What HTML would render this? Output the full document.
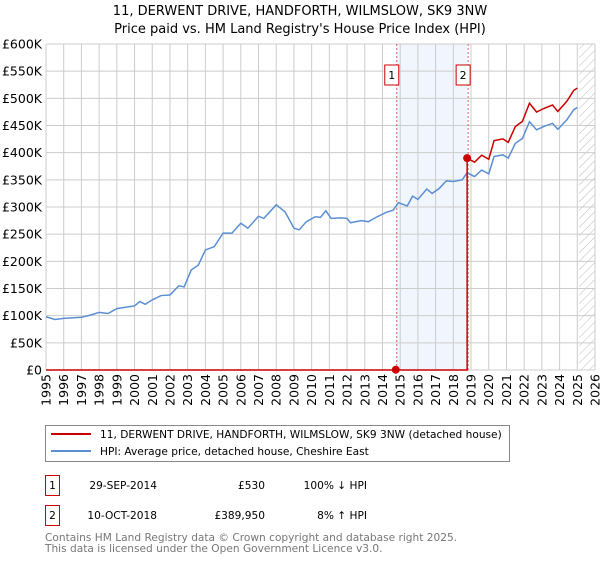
<!DOCTYPE html>
<html><head><meta charset="utf-8"><style>
body{margin:0;background:#fff;font-family:"Liberation Sans","DejaVu Sans",sans-serif;}
svg text{font-family:"DejaVu Sans","Liberation Sans",sans-serif;}
</style></head><body>
<svg id="chart" width="600" height="560" xmlns="http://www.w3.org/2000/svg">
<defs><pattern id="hatch" patternUnits="userSpaceOnUse" width="6" height="6" patternTransform="rotate(45)"><line x1="0" y1="0" x2="0" y2="6" stroke="#bbb" stroke-width="1"/></pattern></defs>
<text x="300" y="15" text-anchor="middle" font-size="13" fill="#000">11, DERWENT DRIVE, HANDFORTH, WILMSLOW, SK9 3NW</text>
<text x="300" y="33" text-anchor="middle" font-size="13" fill="#000">Price paid vs. HM Land Registry's House Price Index (HPI)</text>
<g id="grid"></g><g id="marks"></g><g id="axes"></g>
<rect x="45.5" y="425.5" width="464" height="36" fill="#fff" stroke="#888"/>
<line x1="51" y1="434" x2="91" y2="434" stroke="#cc0000" stroke-width="2"/>
<text x="100" y="438" font-size="10.6">11, DERWENT DRIVE, HANDFORTH, WILMSLOW, SK9 3NW (detached house)</text>
<line x1="51" y1="451" x2="91" y2="451" stroke="#5b8fd4" stroke-width="2"/>
<text x="100" y="455" font-size="10.6">HPI: Average price, detached house, Cheshire East</text>
<g font-size="10.6">
<rect x="45.5" y="475.5" width="14" height="20" fill="#fff" stroke="#cc0000"/><text x="52.5" y="489" text-anchor="middle">1</text>
<text x="157" y="489" text-anchor="end">29-SEP-2014</text><text x="265" y="489" text-anchor="end">£530</text><text x="367" y="489" text-anchor="end">100% ↓ HPI</text></g>
<g font-size="10.6">
<rect x="45.5" y="505.5" width="14" height="20" fill="#fff" stroke="#cc0000"/><text x="52.5" y="519" text-anchor="middle">2</text>
<text x="157" y="519" text-anchor="end">10-OCT-2018</text><text x="265" y="519" text-anchor="end">£389,950</text><text x="367" y="519" text-anchor="end">8% ↑ HPI</text></g>
<text x="45" y="541" font-size="10.6" fill="#777">Contains HM Land Registry data © Crown copyright and database right 2025.</text>
<text x="45" y="552" font-size="10.6" fill="#777">This data is licensed under the Open Government Licence v3.0.</text>
</svg>
<script>
const hpiYears=[1995,1995.5,1996,1997,1997.5,1998,1998.5,1999,2000,2000.3,2000.6,2001,2001.5,2002,2002.5,2002.8,2003.2,2003.6,2004,2004.5,2005,2005.5,2006,2006.4,2007,2007.3,2008,2008.5,2009,2009.3,2009.7,2010.2,2010.5,2010.8,2011.1,2011.7,2012,2012.2,2012.8,2013.2,2013.7,2014.2,2014.6,2014.9,2015.4,2015.7,2016,2016.5,2016.8,2017.2,2017.6,2018,2018.5,2018.78,2019.2,2019.6,2020,2020.3,2020.8,2021.1,2021.5,2021.9,2022.3,2022.7,2023.1,2023.6,2023.9,2024.4,2024.8,2025.0];
const hpiValues=[98,93,95,97,101,106,104,113,118,126,121,129,137,138,155,153,184,193,221,227,252,252,270,261,283,279,304,291,261,258,273,282,281,293,279,280,279,271,275,273,282,290,294,308,302,320,314,333,325,334,348,347,350,363,356,368,361,393,396,390,417,426,457,442,448,454,443,460,479,483];
const saleYears=[2014.75,2018.78];
const salePrices=[0.53,389.95];
const yTicks=[0,50,100,150,200,250,300,350,400,450,500,550,600];
const xTicks=[1995,1996,1997,1998,1999,2000,2001,2002,2003,2004,2005,2006,2007,2008,2009,2010,2011,2012,2013,2014,2015,2016,2017,2018,2019,2020,2021,2022,2023,2024,2025,2026];
const X0=46,X1=595,Y0=370,Y1=44;
const xs=t=>X0+(t-1995)/(2026-1995)*(X1-X0);
const ys=v=>Y0-v/600*(Y0-Y1);
const NS='http://www.w3.org/2000/svg';
function mk(p,tag,at){const e=document.createElementNS(NS,tag);for(const k in at)e.setAttribute(k,at[k]);p.appendChild(e);return e;}
const grid=document.getElementById('grid'),marks=document.getElementById('marks'),axes=document.getElementById('axes');
let sh=mk(grid,'rect',{x:xs(saleYears[0]),y:Y1,width:xs(saleYears[1])-xs(saleYears[0]),height:Y0-Y1,fill:'#eef3fc',opacity:0.8});


let ht=mk(grid,'rect',{x:xs(2025.1),y:Y1,width:X1-xs(2025.1),height:Y0-Y1,fill:'url(#hatch)'});


yTicks.forEach(v=>{
 let l=mk(grid,'line',{x1:X0,x2:X1,y1:ys(v),y2:ys(v),stroke:'#ccc'});
 
 
 let t=mk(axes,'text',{x:X0-4,y:ys(v)+4.5,'text-anchor':'end','font-size':'12.5'});
 
 
 t.textContent='£'+(v===0?'0':v+'K');
});
xTicks.forEach(yr=>{
 let l=mk(grid,'line',{x1:xs(yr),x2:xs(yr),y1:Y1,y2:Y0,stroke:'#ccc'});
 
 
 let t=mk(axes,'text',{transform:`translate(${xs(yr)+4.5},${Y0+4}) rotate(-90)`,'text-anchor':'end','font-size':'12.5'});
 
 
 t.textContent=yr;
});
saleYears.forEach((s,i)=>{
 let l=mk(marks,'line',{x1:xs(s)+1,x2:xs(s)+1,y1:Y1,y2:Y0,stroke:'#e06060','stroke-dasharray':'2,2'});
 
 
 let g=mk(marks,'g',{});
 
 
 mk(g,'rect',{x:xs(s)-11,y:65,width:14,height:20,fill:'#fff',stroke:'#cc0000'});
 let t=mk(g,'text',{x:xs(s)-4,y:79,'text-anchor':'middle','font-size':'11'});t.textContent=i+1;
});
let hp=mk(marks,'polyline',{points:hpiYears.map((t,i)=>xs(t)+','+ys(hpiValues[i])).join(' '),fill:'none',stroke:'#5b8fd4','stroke-width':1.5});


const base=hpiValues[hpiYears.indexOf(saleYears[1])]||363;
let pts=[[1995,0],[saleYears[1],0],[saleYears[1],salePrices[1]]];
hpiYears.forEach((t,i)=>{if(t>saleYears[1])pts.push([t,hpiValues[i]*salePrices[1]/base]);});
let pl=mk(marks,'polyline',{points:pts.map(p=>xs(p[0])+','+ys(p[1])).join(' '),fill:'none',stroke:'#cc0000','stroke-width':1.5});


saleYears.forEach((s,i)=>{
 let c=mk(marks,'circle',{cx:xs(s),cy:ys(salePrices[i]),r:4,fill:'#cc0000'});
 
 
});
</script>
</body></html>
